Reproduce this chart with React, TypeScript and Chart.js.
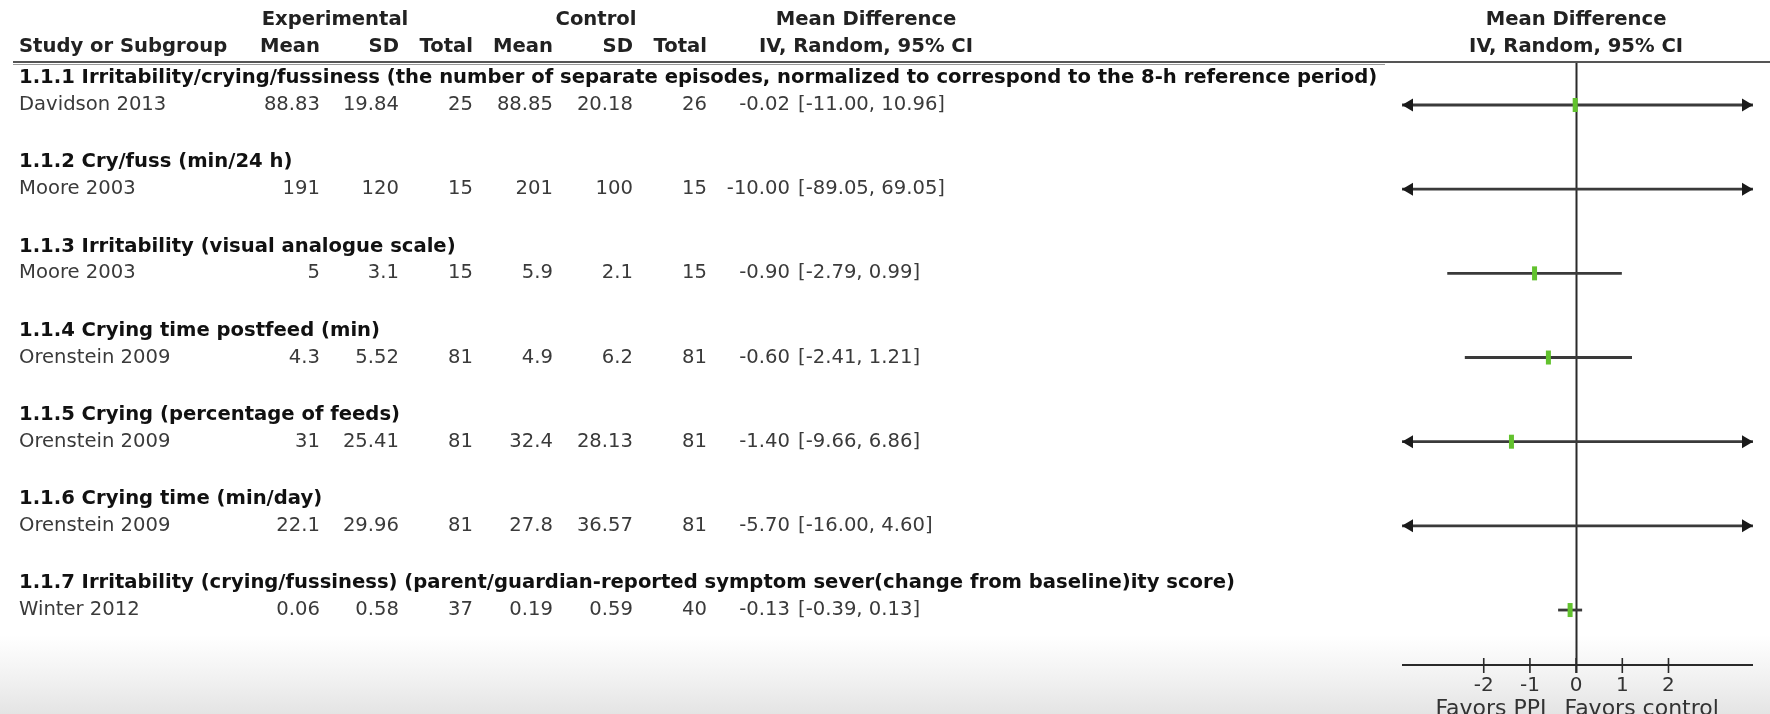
import React, { useEffect, useRef } from "react";
import { Chart, registerables } from "chart.js";

Chart.register(...registerables);

// ---------- data ----------
const subgroupTitles = [
  "1.1.1 Irritability/crying/fussiness (the number of separate episodes, normalized to correspond to the 8-h reference period)",
  "1.1.2 Cry/fuss (min/24 h)",
  "1.1.3 Irritability (visual analogue scale)",
  "1.1.4 Crying time postfeed (min)",
  "1.1.5 Crying (percentage of feeds)",
  "1.1.6 Crying time (min/day)",
  "1.1.7 Irritability (crying/fussiness) (parent/guardian-reported symptom sever(change from baseline)ity score)",
];
const studies = ["Davidson 2013", "Moore 2003", "Moore 2003", "Orenstein 2009", "Orenstein 2009", "Orenstein 2009", "Winter 2012"];
const expMean = ["88.83", "191", "5", "4.3", "31", "22.1", "0.06"];
const expSD = ["19.84", "120", "3.1", "5.52", "25.41", "29.96", "0.58"];
const expTotal = [25, 15, 15, 81, 81, 81, 37];
const ctrlMean = ["88.85", "201", "5.9", "4.9", "32.4", "27.8", "0.19"];
const ctrlSD = ["20.18", "100", "2.1", "6.2", "28.13", "36.57", "0.59"];
const ctrlTotal = [26, 15, 15, 81, 81, 81, 40];
const meanDiff = [-0.02, -10.0, -0.9, -0.6, -1.4, -5.7, -0.13];
const ciLow = [-11.0, -89.05, -2.79, -2.41, -9.66, -16.0, -0.39];
const ciHigh = [10.96, 69.05, 0.99, 1.21, 6.86, 4.6, 0.13];
const tickValues = [-2, -1, 0, 1, 2];
const favorsLeft = "Favors PPI";
const favorsRight = "Favors control";

// ---------- style ----------
const FONT = '"DejaVu Sans", sans-serif';
const SIZE = 19.6;
const X_MIN = -3.77;
const X_MAX = 3.83;
const Y_MIN = -0.511;
const Y_MAX = 6.653;
const HEAD_OFF = 0.32;
const LINE_COLOR = "#3a3a3a";
const GREEN = "#62c22e";

const forestPlugin = {
  id: "forest",
  beforeDraw(chart: any) {
    const { ctx, width, height } = chart;
    ctx.save();
    ctx.fillStyle = "#ffffff";
    ctx.fillRect(0, 0, width, height);
    const g = ctx.createLinearGradient(0, 635, 0, height);
    g.addColorStop(0, "rgba(232,232,232,0)");
    g.addColorStop(1, "rgba(228,228,228,1)");
    ctx.fillStyle = g;
    ctx.fillRect(0, 635, width, height - 635);
    ctx.restore();
  },
  beforeDatasetsDraw(chart: any) {
    const { ctx, chartArea } = chart;
    const xs = chart.scales.x;
    const x0 = Math.round(xs.getPixelForValue(0)) + 0.5;
    ctx.save();
    ctx.strokeStyle = "#2a2a2a";
    ctx.lineWidth = 2;
    ctx.beginPath();
    ctx.moveTo(x0, chartArea.top);
    ctx.lineTo(x0, chartArea.bottom + 8);
    ctx.stroke();
    // axis
    ctx.beginPath();
    ctx.moveTo(chartArea.left, chartArea.bottom);
    ctx.lineTo(chartArea.right, chartArea.bottom);
    ctx.stroke();
    ctx.lineWidth = 1.6;
    tickValues.forEach((v) => {
      const px = xs.getPixelForValue(v);
      ctx.beginPath();
      ctx.moveTo(px, chartArea.bottom - 7);
      ctx.lineTo(px, chartArea.bottom + 8);
      ctx.stroke();
    });
    ctx.fillStyle = "#333";
    ctx.font = `20px ${FONT}`;
    ctx.textAlign = "center";
    ctx.textBaseline = "middle";
    tickValues.forEach((v) => {
      ctx.fillText(String(v), xs.getPixelForValue(v), chartArea.bottom + 21);
    });
    ctx.font = `22px ${FONT}`;
    ctx.textBaseline = "top";
    ctx.textAlign = "right";
    ctx.fillText(favorsLeft, x0 - 30, chartArea.bottom + 33);
    ctx.textAlign = "left";
    ctx.fillText(favorsRight, x0 - 12, chartArea.bottom + 33);
    ctx.restore();
  },
  afterDatasetsDraw(chart: any) {
    const { ctx, chartArea } = chart;
    const ys = chart.scales.y;
    ctx.save();
    ctx.fillStyle = "#1a1a1a";
    studies.forEach((_, i) => {
      const py = ys.getPixelForValue(i);
      if (ciLow[i] < X_MIN) {
        const tx = chartArea.left;
        ctx.beginPath();
        ctx.moveTo(tx, py);
        ctx.lineTo(tx + 11, py - 6.5);
        ctx.lineTo(tx + 11, py + 6.5);
        ctx.closePath();
        ctx.fill();
      }
      if (ciHigh[i] > X_MAX) {
        const tx = chartArea.right;
        ctx.beginPath();
        ctx.moveTo(tx, py);
        ctx.lineTo(tx - 11, py - 6.5);
        ctx.lineTo(tx - 11, py + 6.5);
        ctx.closePath();
        ctx.fill();
      }
    });
    ctx.restore();
  },
  afterDraw(chart: any) {
    const { ctx, width } = chart;
    const ys = chart.scales.y;
    const xs = chart.scales.x;
    const xc = xs.getPixelForValue(0);
    ctx.save();
    // separator lines
    ctx.strokeStyle = "#555";
    ctx.lineWidth = 2;
    ctx.beginPath();
    ctx.moveTo(13, 62);
    ctx.lineTo(width, 62);
    ctx.stroke();
    ctx.strokeStyle = "#999";
    ctx.lineWidth = 1;
    ctx.beginPath();
    ctx.moveTo(13, 64.5);
    ctx.lineTo(1385, 64.5);
    ctx.stroke();

    const bold = `bold ${SIZE}px ${FONT}`;
    const reg = `${SIZE}px ${FONT}`;
    ctx.textBaseline = "middle";
    ctx.fillStyle = "#222";
    ctx.font = bold;
    ctx.textAlign = "center";
    ctx.fillText("Experimental", 335, 20);
    ctx.fillText("Control", 596, 20);
    ctx.fillText("Mean Difference", 866, 20);
    ctx.fillText("IV, Random, 95% CI", 866, 47);
    ctx.fillText("Mean Difference", xc, 20);
    ctx.fillText("IV, Random, 95% CI", xc, 47);
    ctx.textAlign = "left";
    ctx.fillText("Study or Subgroup", 19, 47);
    ctx.textAlign = "right";
    const colRight = [320, 399, 473, 553, 633, 707];
    const colHead = ["Mean", "SD", "Total", "Mean", "SD", "Total"];
    colHead.forEach((h, k) => ctx.fillText(h, colRight[k], 47));

    studies.forEach((s, i) => {
      const py = ys.getPixelForValue(i);
      const hy = ys.getPixelForValue(i - HEAD_OFF);
      ctx.font = bold;
      ctx.fillStyle = "#111";
      ctx.textAlign = "left";
      ctx.fillText(subgroupTitles[i], 19, hy);
      ctx.font = reg;
      ctx.fillStyle = "#3a3a3a";
      ctx.fillText(s, 19, py);
      ctx.textAlign = "right";
      const vals = [expMean[i], expSD[i], String(expTotal[i]), ctrlMean[i], ctrlSD[i], String(ctrlTotal[i])];
      vals.forEach((v, k) => ctx.fillText(v, colRight[k], py));
      ctx.fillText(meanDiff[i].toFixed(2), 790, py);
      ctx.textAlign = "left";
      ctx.fillText(`[${ciLow[i].toFixed(2)}, ${ciHigh[i].toFixed(2)}]`, 798, py);
    });
    ctx.restore();
  },
};

export default function App() {
  const ref = useRef<HTMLCanvasElement>(null);
  useEffect(() => {
    if (!ref.current) return;
    const ciSets = studies.map((_, i) => ({
      type: "scatter" as const,
      data: [
        { x: ciLow[i], y: i },
        { x: ciHigh[i], y: i },
      ],
      showLine: true,
      borderColor: LINE_COLOR,
      borderWidth: 2.8,
      pointRadius: 0,
      order: 2,
    }));
    const markerSet = {
      type: "scatter" as const,
      data: meanDiff.map((m, i) => ({ x: m, y: i })),
      pointStyle: "line",
      rotation: 90,
      pointRadius: 7,
      borderWidth: 5,
      borderColor: GREEN,
      backgroundColor: GREEN,
      order: 1,
      clip: 0,
    };
    const chart = new Chart(ref.current, {
      type: "scatter",
      data: { datasets: [markerSet as any, ...ciSets] },
      options: {
        animation: false,
        responsive: false,
        devicePixelRatio: 1,
        layout: { padding: { left: 1402, right: 17, top: 62, bottom: 49 } },
        plugins: { legend: { display: false }, tooltip: { enabled: false } },
        scales: {
          x: { type: "linear", min: X_MIN, max: X_MAX, display: false },
          y: { type: "linear", min: Y_MIN, max: Y_MAX, reverse: true, display: false },
        },
      },
      plugins: [forestPlugin],
    });
    return () => chart.destroy();
  }, []);
  return (
    <div style={{ position: "absolute", left: 0, top: 0, width: 1770, height: 714 }}>
      <canvas ref={ref} width={1770} height={714} style={{ width: 1770, height: 714, display: "block" }} />
    </div>
  );
}
